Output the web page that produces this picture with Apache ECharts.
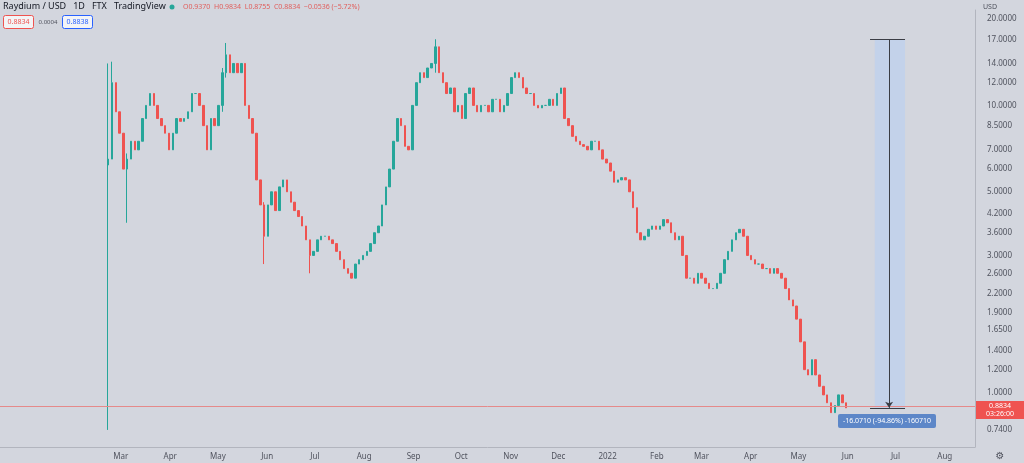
<!DOCTYPE html>
<html><head><meta charset="utf-8">
<script src="https://cdn.jsdelivr.net/npm/echarts@6/dist/echarts.min.js"></script>
<style>html,body{margin:0;padding:0;background:#d3d6de}#c{width:1024px;height:463px}</style>
</head><body><div id="c"></div>
<script>
// Close prices (USD), roughly every 2.5 days from 2021-02-21 to 2022-05-31
const closes = [6.5,12,9.5,8,6,6.5,7.5,7,7.5,9,10,11,10,9,8.5,8,7,8,9,8.8,9,9.5,11,11,10,8.5,7,9,8.5,10,13,15,13,14,13,14,10,9,8,5.5,4.5,3.5,4.5,5,4.3,5.2,5.5,5,4.6,4.3,4.1,3.8,3.4,3.0,3.1,3.4,3.5,3.5,3.4,3.3,3.1,2.9,2.7,2.6,2.5,2.8,2.9,3.0,3.1,3.3,3.6,3.8,4.5,5.2,6.0,7.5,9.0,8.5,7.2,7.0,10,12,13,12.5,13.5,14,16,13,12,11,11.5,9.5,10,9.0,11,11.5,10,9.5,10,10,9.5,10.5,10.5,9.5,10,11,12.5,13,12.5,11.5,11,11,10,9.8,10,10,10.5,10,11,11.5,9,8.5,7.8,7.5,7.3,7.2,7,7.5,7.5,7,6.5,6.3,5.9,5.4,5.5,5.6,5.5,5.0,4.4,3.6,3.4,3.5,3.7,3.8,3.7,3.8,4.0,3.9,3.6,3.4,3.5,3.0,2.5,2.5,2.4,2.6,2.5,2.4,2.3,2.3,2.4,2.6,2.9,3.1,3.4,3.6,3.7,3.5,3.0,2.9,2.8,2.8,2.7,2.7,2.6,2.7,2.6,2.5,2.3,2.1,2.0,1.8,1.5,1.2,1.15,1.3,1.15,1.05,0.98,0.92,0.85,0.9,0.98,0.92,0.8834];
const firstOpen = 6.2;
// notable wicks: [index, high, low]
const wicks = [[0,14,0.74],[1,14.2,9],[5,6.8,3.9],[30,13.5,9.5],[31,16.5,12.5],[41,4.6,2.8],[53,3.2,2.6],[86,17,13]];
const yTicks = [20,17,14,12,10,8.5,7,6,5,4.2,3.6,3.0,2.6,2.2,1.9,1.65,1.4,1.2,1.0,0.74,0.645];
const monthNames = ['2022','Feb','Mar','Apr','May','Jun','Jul','Aug','Sep','Oct','Nov','Dec'];
const startDate = '2021-02-21', endDate = '2022-05-31';
const lastPrice = 0.8834;

const L = v => Math.log10(v);
const t0 = +new Date(startDate), t1 = +new Date(endDate);
const step = (t1 - t0) / (closes.length - 1);
const wmap = {}; wicks.forEach(w => wmap[w[0]] = w);
const data = closes.map((c, i) => {
  const o = i === 0 ? firstOpen : closes[i - 1];
  let h = Math.max(o, c), lo = Math.min(o, c);
  if (wmap[i]) { h = Math.max(h, wmap[i][1]); lo = Math.min(lo, wmap[i][2]); }
  return [t0 + i * step, L(o), L(c), L(lo), L(h)];
});

const chart = echarts.init(document.getElementById('c'));
chart.setOption({
  backgroundColor: '#d3d6de',
  animation: false,
  grid: {left: 0, right: 49, top: 10, bottom: 16},
  xAxis: {
    type: 'time', min: '2020-12-15', max: '2022-08-20',
    minInterval: 28 * 86400000, maxInterval: 31 * 86400000,
    axisLine: {show: true, onZero: false, lineStyle: {color: '#b2b5be'}},
    axisTick: {show: false}, splitLine: {show: false},
    axisLabel: {color: '#50535e', fontSize: 8, margin: 6, fontFamily: 'Noto Sans',
      formatter: v => { const d = new Date(v); if (d < new Date('2021-03-01')) return ''; return monthNames[d.getMonth()]; }}
  },
  yAxis: {
    type: 'value', position: 'right', min: -0.1903, max: 1.3324, scale: true,
    axisLine: {show: true, lineStyle: {color: '#b2b5be'}},
    axisTick: {show: false}, splitLine: {show: false},
    axisLabel: {customValues: yTicks.map(L), showMinLabel: true, color: '#50535e', fontSize: 8, margin: 12, fontFamily: 'Noto Sans',
      formatter: v => Math.pow(10, v).toFixed(4)}
  },
  series: [{
    type: 'candlestick', data: data, barWidth: 2,
    itemStyle: {color: '#26a69a', color0: '#ef5350', borderColor: '#26a69a', borderColor0: '#ef5350', borderWidth: 1},
    markArea: {silent: true, itemStyle: {color: 'rgba(190,208,238,0.75)'},
      data: [[{coord: [+new Date('2022-06-18'), L(17)]}, {coord: [+new Date('2022-07-07'), L(lastPrice)]}]]},
    markLine: {silent: true, symbol: 'none', label: {show: false},
      data: [
        {yAxis: L(lastPrice), lineStyle: {color: '#e58a8a', width: 1, type: 'solid'}},
        [{coord: [+new Date('2022-06-27'), L(17)], symbol: 'none'}, {coord: [+new Date('2022-06-27'), L(lastPrice)], symbol: 'arrow', symbolSize: 6, lineStyle: {color: '#3a3d45', width: 1, type: 'solid'}}],
        [{coord: [+new Date('2022-06-15'), L(17)]}, {coord: [+new Date('2022-07-07'), L(17)], lineStyle: {color: '#3a3d45', width: 1, type: 'solid'}}],
        [{coord: [+new Date('2022-06-15'), L(lastPrice)]}, {coord: [+new Date('2022-07-07'), L(lastPrice)], lineStyle: {color: '#3a3d45', width: 1, type: 'solid'}}]
      ]}
  }],
  graphic: [
    {type: 'text', left: 3, top: 2, style: {text: 'Raydium / USD   1D   FTX   TradingView', fill: '#131722', fontSize: 9, fontFamily: 'Noto Sans'}},
    {type: 'circle', shape: {cx: 172, cy: 7, r: 2.5}, style: {fill: '#26a69a'}},
    {type: 'text', left: 183, top: 3, style: {text: 'O0.9370  H0.9834  L0.8755  C0.8834  −0.0536 (−5.72%)', fill: '#e0605e', fontSize: 7, fontFamily: 'Noto Sans'}},
    {type: 'rect', shape: {x: 3.5, y: 15.5, width: 30, height: 13, r: 2}, style: {fill: '#f3f4f6', stroke: '#ef5350'}},
    {type: 'text', x: 18.5, y: 22, style: {text: '0.8834', fill: '#ef5350', fontSize: 7, align: 'center', verticalAlign: 'middle', fontFamily: 'Noto Sans'}},
    {type: 'text', x: 48, y: 22, style: {text: '0.0004', fill: '#50535e', fontSize: 6, align: 'center', verticalAlign: 'middle', fontFamily: 'Noto Sans'}},
    {type: 'rect', shape: {x: 62.5, y: 15.5, width: 30, height: 13, r: 2}, style: {fill: '#f3f4f6', stroke: '#2962ff'}},
    {type: 'text', x: 77.5, y: 22, style: {text: '0.8838', fill: '#2962ff', fontSize: 7, align: 'center', verticalAlign: 'middle', fontFamily: 'Noto Sans'}},
    {type: 'text', left: 983, top: 3, style: {text: 'USD', fill: '#50535e', fontSize: 7, fontFamily: 'Noto Sans'}},
    {type: 'rect', shape: {x: 838, y: 414, width: 98, height: 14, r: 2}, style: {fill: '#5d87c8'}},
    {type: 'text', x: 887, y: 421, style: {text: '-16.0710 (-94.86%) -160710', fill: '#ffffff', fontSize: 7, align: 'center', verticalAlign: 'middle', fontFamily: 'Noto Sans'}},
    {type: 'rect', shape: {x: 976, y: 401, width: 48, height: 18}, style: {fill: '#ef5350'}},
    {type: 'text', x: 1000, y: 410, style: {text: '0.8834\n03:26:00', fill: '#ffffff', fontSize: 7, lineHeight: 8, align: 'center', verticalAlign: 'middle', fontFamily: 'Noto Sans'}},
    {type: 'text', x: 1000, y: 456, style: {text: '⚙', fill: '#50535e', fontSize: 10, align: 'center', verticalAlign: 'middle', fontFamily: 'DejaVu Sans'}}
  ]
});
</script></body></html>
